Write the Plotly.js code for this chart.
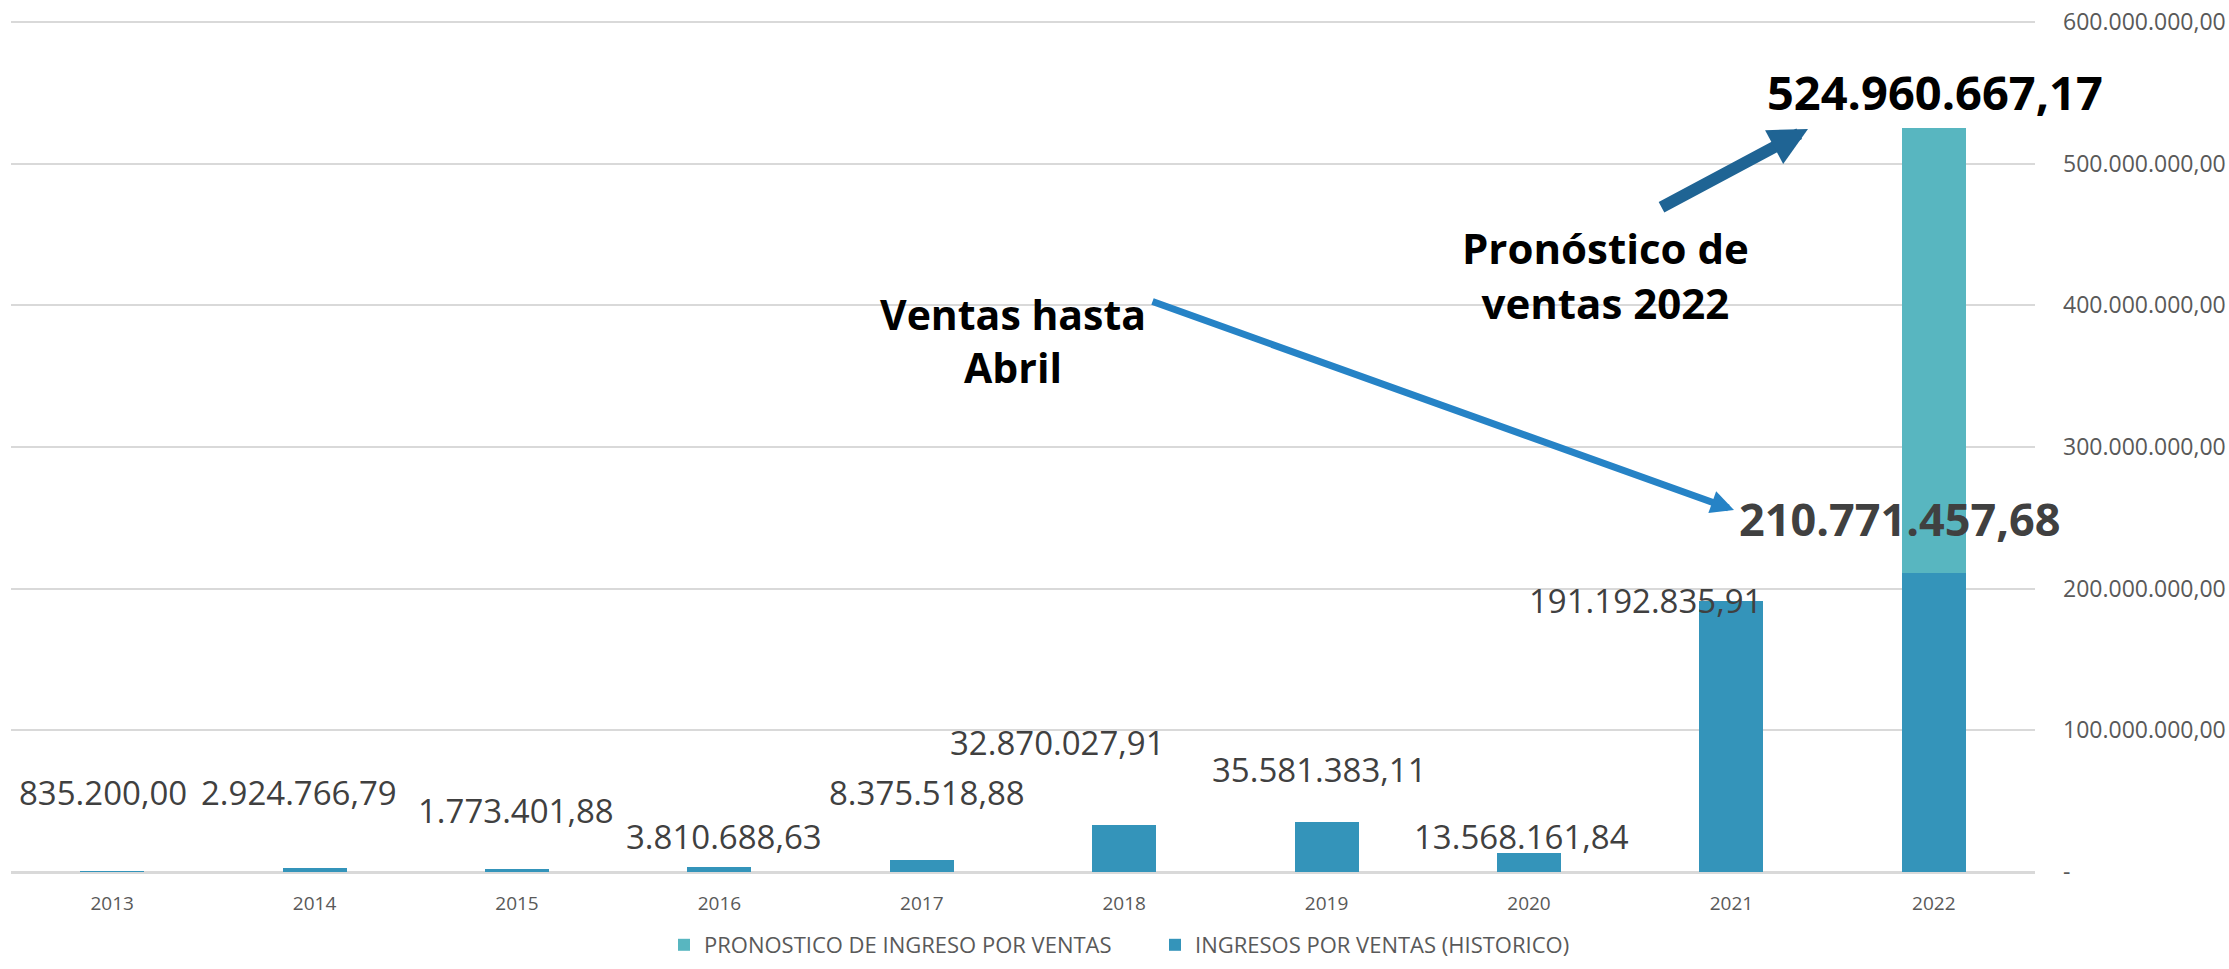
<!DOCTYPE html>
<html><head><meta charset="utf-8">
<script src="https://cdn.plot.ly/plotly-3.0.1.min.js"></script>
<style>html,body{margin:0;padding:0;background:#fff;overflow:hidden}#chart{width:2229px;height:969px}</style>
</head><body><div id="chart"></div>
<script>
// ---------- data ----------
const years = ['2013','2014','2015','2016','2017','2018','2019','2020','2021','2022'];
const historico = [835200.00, 2924766.79, 1773401.88, 3810688.63, 8375518.88, 32870027.91, 35581383.11, 13568161.84, 191192835.91, 210771457.68];
const pronostico = [0, 0, 0, 0, 0, 0, 0, 0, 0, 314189209.49];
const pronosticoTotal2022 = 524960667.17;
const tickVals = [0, 100000000, 200000000, 300000000, 400000000, 500000000, 600000000];
const tickText = ['-', '100.000.000,00', '200.000.000,00', '300.000.000,00', '400.000.000,00', '500.000.000,00', '600.000.000,00'];
const seriesNames = ['INGRESOS POR VENTAS (HISTORICO)', 'PRONOSTICO DE INGRESO POR VENTAS'];

// ---------- layout helpers (positions, not data) ----------
const PL = 11, PR = 2035, PT = 20, PB = 872;
const px = x => (x - PL) / (PR - PL);
const py = y => (PB - y) / (PB - PT);
const yTop = 600000000 * (PB - PT) / (PB - 22);   // 600M gridline sits at y=22
// label placement: [pixel shift from bar centre, label centre y in pixels]
const labelPlace = [[-9,792],[-16,792],[-1,810],[5,836],[5,792],[-67,742],[-7,769],[-8,836],[-86,600],[-34,518]];

function fmt(v){
  const neg = v < 0; v = Math.abs(v);
  let [i, d] = v.toFixed(2).split('.');
  i = i.replace(/\B(?=(\d{3})+(?!\d))/g, '.');
  return (neg ? '-' : '') + i + ',' + d;
}

const FONT = '"Open Sans", "Noto Sans", sans-serif';

const traces = [
  {type:'bar', x: years, y: historico, name: seriesNames[0], marker:{color:'#3494BA'}, hoverinfo:'none'},
  {type:'bar', x: years, y: pronostico, name: seriesNames[1], marker:{color:'#58B6C0'}, hoverinfo:'none'}
];

const annotations = [];
historico.forEach((v, i) => {
  const last = i === historico.length - 1;
  annotations.push({
    xref:'x', yref:'paper', x: i, xshift: labelPlace[i][0], y: py(labelPlace[i][1]),
    xanchor:'center', yanchor:'middle', showarrow:false, text: fmt(v),
    font: last ? {family: FONT, size: 45, color:'#404040', weight: 700} : {family: FONT, size: 33, color:'#404040'}
  });
});
annotations.push({
  xref:'x', yref:'paper', x: years.length - 1, xshift: 1, y: py(92), xanchor:'center', yanchor:'middle', showarrow:false,
  text: fmt(pronosticoTotal2022), font:{family: FONT, size: 47, color:'#000000', weight: 700}
});
annotations.push({
  xref:'paper', yref:'paper', x: px(1605), y: py(275), xanchor:'center', yanchor:'middle', showarrow:false,
  text:'Pronóstico de<br>ventas 2022', font:{family: FONT, size: 42, color:'#000000', weight: 700}
});
annotations.push({
  xref:'paper', yref:'paper', x: px(1013), y: py(340), xanchor:'center', yanchor:'middle', showarrow:false,
  text:'Ventas hasta<br>Abril', font:{family: FONT, size: 41, color:'#000000', weight: 700}
});
// arrows
annotations.push({
  xref:'paper', yref:'paper', x: px(1808), y: py(129), ax: 1660-1808, ay: 208-129, text:'', showarrow:true,
  arrowhead:2, arrowwidth:12, arrowsize:0.64, arrowcolor:'#1F6494'
});
annotations.push({
  xref:'paper', yref:'paper', x: px(1734), y: py(510), ax: 1151-1734, ay: 301-510, text:'', showarrow:true,
  arrowhead:2, arrowwidth:7, arrowsize:0.66, arrowcolor:'#2683C6'
});

const layout = {
  width: 2229, height: 969,
  margin: {l: PL, r: 2229-PR, t: PT, b: 969-PB, autoexpand:false},
  paper_bgcolor:'#ffffff', plot_bgcolor:'#ffffff',
  barmode:'stack', bargap: 0.684,
  font:{family: FONT, color:'#595959'},
  showlegend:true,
  legend:{orientation:'h', traceorder:'reversed', x: px(664), xanchor:'left', y: py(945), yanchor:'middle',
          font:{family: FONT, size: 22, color:'#595959'}, entrywidth: 446, entrywidthmode:'pixels'},
  xaxis:{type:'category', range:[-0.5, 9.5], autorange:false, showgrid:false, showline:false, zeroline:false, ticks:'', automargin:false,
         tickfont:{family: FONT, size: 19, color:'#595959'}, ticklabelstandoff: 18},
  yaxis:{side:'right', range:[0, yTop], autorange:false, tickvals: tickVals, ticktext: tickText, showgrid:true,
         gridcolor:'#D9D9D9', gridwidth:2, zeroline:true, zerolinecolor:'#D9D9D9', zerolinewidth:3,
         showline:false, ticks:'', automargin:false, ticklabelstandoff: 27,
         tickfont:{family: FONT, size: 23, color:'#595959'}},
  annotations: annotations
};

Plotly.newPlot('chart', traces, layout, {staticPlot:true, displayModeBar:false});
</script>
</body></html>
